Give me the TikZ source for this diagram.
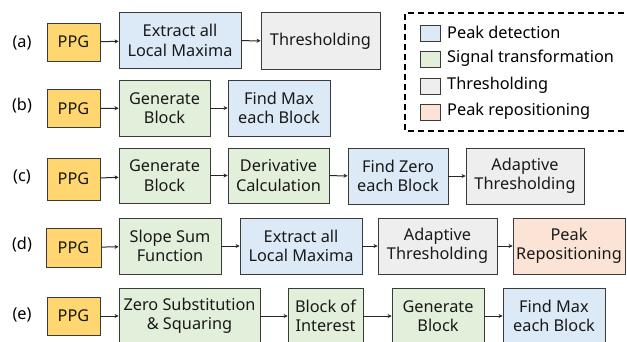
\documentclass[tikz,border=0pt]{standalone}
\usepackage{fontspec}
\setmainfont{Noto Sans}
\usetikzlibrary{arrows.meta}
\definecolor{ppgc}{HTML}{FFD670}
\definecolor{bluec}{HTML}{DCE9F6}
\definecolor{greenc}{HTML}{E2EFDA}
\definecolor{grayc}{HTML}{EEEEEE}
\definecolor{pinkc}{HTML}{FBE3D6}
\definecolor{edgec}{HTML}{3A3A3A}
\begin{document}
\begin{tikzpicture}[x=1pt,y=-1pt,
  box/.style={draw=edgec,line width=0.9pt,align=center,inner sep=0pt,
    font=\fontsize{16.3}{19.5}\selectfont,text=black!90},
  ppg/.style={box,fill=ppgc,minimum width=53pt,minimum height=38pt},
  blu/.style={box,fill=bluec},
  grn/.style={box,fill=greenc},
  gry/.style={box,fill=grayc},
  pnk/.style={box,fill=pinkc},
  lab/.style={font=\fontsize{16.3}{19.5}\selectfont},
  arr/.style={-{Stealth[length=4pt,width=4pt]},line width=1pt,draw=black!85},
  sw/.style={draw=edgec,line width=0.7pt,minimum width=20pt,minimum height=16pt,inner sep=0pt},
  ltxt/.style={anchor=west,font=\fontsize{16.3}{19.5}\selectfont,inner sep=0pt}]
\useasboundingbox (0,0) rectangle (627,341);

% (a)
\node[lab] (la) at (22,43) {(a)};
\node[ppg] (a0) at (73.5,42) {PPG};
\node[blu,minimum width=122pt,minimum height=56pt] (a1) at (180,40.5) {Extract all\\Local Maxima};
\node[gry,minimum width=119pt,minimum height=57pt] (a2) at (320.5,41) {Thresholding};
\draw[arr] (a0) -- (a1);
\draw[arr] (a1) -- (a2);

% (b)
\node[lab] (lb) at (22,106) {(b)};
\node[ppg] (b0) at (73.5,108.5) {PPG};
\node[grn,minimum width=91pt,minimum height=56pt] (b1) at (164.5,108) {Generate\\Block};
\node[blu,minimum width=102pt,minimum height=56pt] (b2) at (279,108) {Find Max\\each Block};
\draw[arr] (b0) -- (b1);
\draw[arr] (b1) -- (b2);

% (c)
\node[lab] (lc) at (22,177) {(c)};
\node[ppg,minimum height=42pt] (c0) at (73.5,179) {PPG};
\node[grn,minimum width=91pt,minimum height=55pt] (c1) at (164.5,175.5) {Generate\\Block};
\node[grn,minimum width=101pt,minimum height=55pt] (c2) at (278.5,175.5) {Derivative\\Calculation};
\node[blu,minimum width=100pt,minimum height=56pt] (c3) at (398,176) {Find Zero\\each Block};
\node[gry,minimum width=118pt,minimum height=56pt] (c4) at (525,176) {Adaptive\\Thresholding};
\draw[arr] (c0) -- (c1);
\draw[arr] (c1) -- (c2);
\draw[arr] (c2) -- (c3);
\draw[arr] (c3) -- (c4);

% (d)
\node[lab] (ld) at (22,245) {(d)};
\node[ppg,minimum width=55pt,minimum height=39pt] (d0) at (73.5,247.5) {PPG};
\node[grn,minimum width=102pt,minimum height=56pt] (d1) at (170,246) {Slope Sum\\Function};
\node[blu,minimum width=122pt,minimum height=56pt] (d2) at (301,246) {Extract all\\Local Maxima};
\node[gry,minimum width=119pt,minimum height=56pt] (d3) at (437.5,246) {Adaptive\\Thresholding};
\node[pnk,minimum width=112pt,minimum height=56pt] (d4) at (569,246) {Peak\\Repositioning};
\draw[arr] (d0) -- (d1);
\draw[arr] (d1) -- (d2);
\draw[arr] (d2) -- (d3);
\draw[arr] (d3) -- (d4);

% (e)
\node[lab] (le) at (22,315) {(e)};
\node[ppg] (e0) at (73.5,316) {PPG};
\node[grn,minimum width=141pt,minimum height=56pt] (e1) at (189.5,316) {Zero Substitution\\\& Squaring};
\node[grn,minimum width=75pt,minimum height=56pt] (e2) at (325.5,316) {Block of\\Interest};
\node[grn,minimum width=92pt,minimum height=56pt] (e3) at (438,316) {Generate\\Block};
\node[blu,minimum width=102pt,minimum height=56pt] (e4) at (554,316) {Find Max\\each Block};
\draw[arr] (e0) -- (e1);
\draw[arr] (e1) -- (e2);
\draw[arr] (e2) -- (e3);
\draw[arr] (e3) -- (e4);

% legend
\draw[line width=1.2pt,dash pattern=on 6pt off 4pt] (634,13) -- (405,13) -- (405,131) -- (634,131);
\node[sw,fill=bluec] (s1) at (430,33) {};
\node[sw,fill=greenc] (s2) at (430,59) {};
\node[sw,fill=grayc] (s3) at (430,86) {};
\node[sw,fill=pinkc] (s4) at (430,112) {};
\node[ltxt] (t1) at (447,32) {Peak detection};
\node[ltxt] (t2) at (447,58) {Signal transformation};
\node[ltxt] (t3) at (447,85) {Thresholding};
\node[ltxt] (t4) at (447,111) {Peak repositioning};
\end{tikzpicture}
\end{document}
